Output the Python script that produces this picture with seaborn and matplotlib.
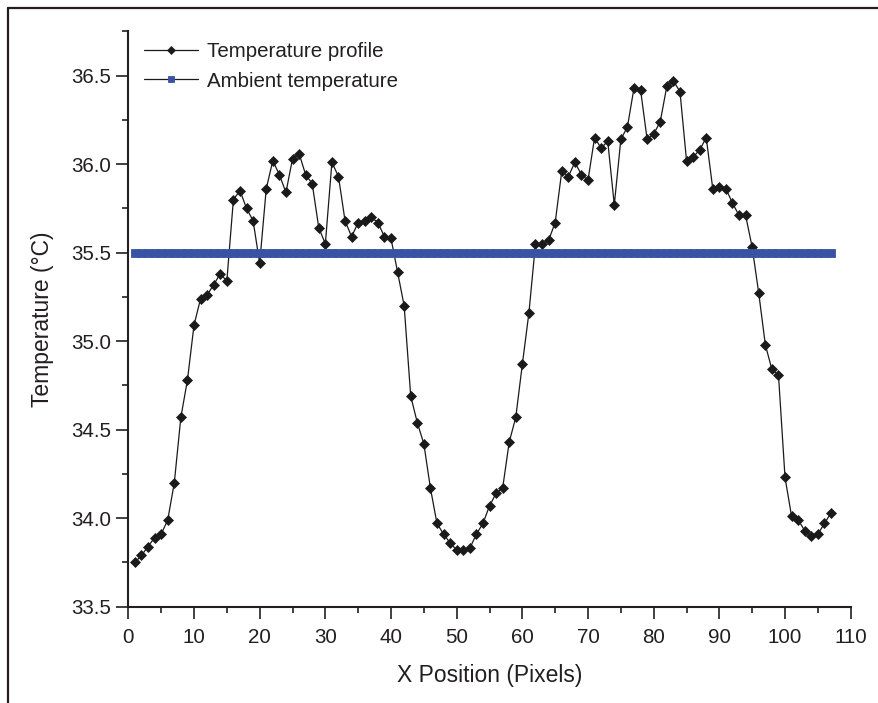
import matplotlib
matplotlib.use("Agg")
import matplotlib.pyplot as plt
from matplotlib.lines import Line2D
from matplotlib.ticker import MultipleLocator
import numpy as np
import pandas as pd
import seaborn as sns

# Pixel positions along the scan line
positions = list(range(1, 108))

# Measured temperature at each pixel (deg C)
temperature = [
    33.75, 33.79, 33.84, 33.89, 33.91, 33.99, 34.20, 34.57, 34.78, 35.09,
    35.24, 35.26, 35.32, 35.38, 35.34, 35.80, 35.85, 35.75, 35.68, 35.44,
    35.86, 36.02, 35.94, 35.84, 36.03, 36.06, 35.94, 35.89, 35.64, 35.55,
    36.01, 35.93, 35.68, 35.59, 35.67, 35.68, 35.70, 35.67, 35.59, 35.58,
    35.39, 35.20, 34.69, 34.54, 34.42, 34.17, 33.97, 33.91, 33.86, 33.82,
    33.82, 33.83, 33.91, 33.97, 34.07, 34.14, 34.17, 34.43, 34.57, 34.87,
    35.16, 35.55, 35.55, 35.57, 35.67, 35.96, 35.93, 36.01, 35.94, 35.91,
    36.15, 36.09, 36.13, 35.77, 36.14, 36.21, 36.43, 36.42, 36.14, 36.17,
    36.24, 36.44, 36.47, 36.41, 36.02, 36.04, 36.08, 36.15, 35.86, 35.87,
    35.86, 35.78, 35.71, 35.71, 35.53, 35.27, 34.98, 34.84, 34.81, 34.23,
    34.01, 33.99, 33.93, 33.90, 33.91, 33.97, 34.03,
]

# Ambient reference temperature (deg C)
ambient = [35.5] * len(positions)

series_names = ["Temperature profile", "Ambient temperature"]
x_ticks = list(range(0, 111, 10))
y_ticks = [33.5, 34.0, 34.5, 35.0, 35.5, 36.0, 36.5]

sns.set_style("white")
plt.rcParams["font.family"] = ["Liberation Sans", "DejaVu Sans"]
plt.rcParams["text.color"] = "#231f20"
plt.rcParams["axes.labelcolor"] = "#231f20"
plt.rcParams["xtick.color"] = "#231f20"
plt.rcParams["ytick.color"] = "#231f20"

profile_df = pd.DataFrame({"x": positions, "y": temperature})
ambient_df = pd.DataFrame({"x": positions, "y": ambient})

fig = plt.figure(figsize=(8.79, 7.03), dpi=100)
ax = fig.add_axes([0.1460, 0.1370, 0.8218, 0.8184])

sns.lineplot(data=profile_df, x="x", y="y", ax=ax, color="#1a1a1a",
             linewidth=0.9, marker="D", markersize=4.6,
             markerfacecolor="#1a1a1a", markeredgecolor="#1a1a1a",
             markeredgewidth=0.5, label=series_names[0], errorbar=None,
             zorder=3)
sns.lineplot(data=ambient_df, x="x", y="y", ax=ax, color="#1a1a1a",
             linewidth=0.9, marker="s", markersize=5.3,
             markerfacecolor="#3953a4", markeredgecolor="#3953a4",
             markeredgewidth=0.6, label=series_names[1], errorbar=None,
             zorder=4)

ax.set_xlim(0, 110)
ax.set_ylim(33.5, 36.75)
ax.set_xticks(x_ticks)
ax.set_yticks(y_ticks)
ax.set_yticklabels([f"{v:.1f}" for v in y_ticks])
ax.xaxis.set_minor_locator(MultipleLocator(5))
ax.yaxis.set_minor_locator(MultipleLocator(0.25))

for side in ("top", "right"):
    ax.spines[side].set_visible(False)
for side in ("left", "bottom"):
    ax.spines[side].set_linewidth(1.5)
    ax.spines[side].set_color("#231f20")

ax.tick_params(axis="both", which="major", direction="out", length=8.5,
               width=1.2, labelsize=14.8, bottom=True, left=True)
ax.tick_params(axis="both", which="minor", direction="out", length=4.5,
               width=1.2, bottom=True, left=True)
ax.tick_params(axis="x", which="major", pad=7)
ax.tick_params(axis="y", which="major", pad=4)

ax.set_xlabel("X Position (Pixels)", fontsize=16.5, labelpad=12)
ax.set_ylabel("Temperature (°C)", fontsize=16.5, labelpad=12)

ax.legend(loc="upper left", bbox_to_anchor=(0.022, 0.981), frameon=False,
          fontsize=14.8, handlelength=2.6, handletextpad=0.45,
          labelspacing=0.5, borderpad=0, borderaxespad=0, markerscale=0.85)

# Frame lines along the top and left edges of the figure
fig.add_artist(Line2D([0.0091, 0.0091], [0.0, 0.9886], transform=fig.transFigure,
                      color="#231f20", linewidth=1.6))
fig.add_artist(Line2D([0.0091, 1.0], [0.9886, 0.9886], transform=fig.transFigure,
                      color="#231f20", linewidth=1.6))

fig.savefig("out.png", dpi=100)
